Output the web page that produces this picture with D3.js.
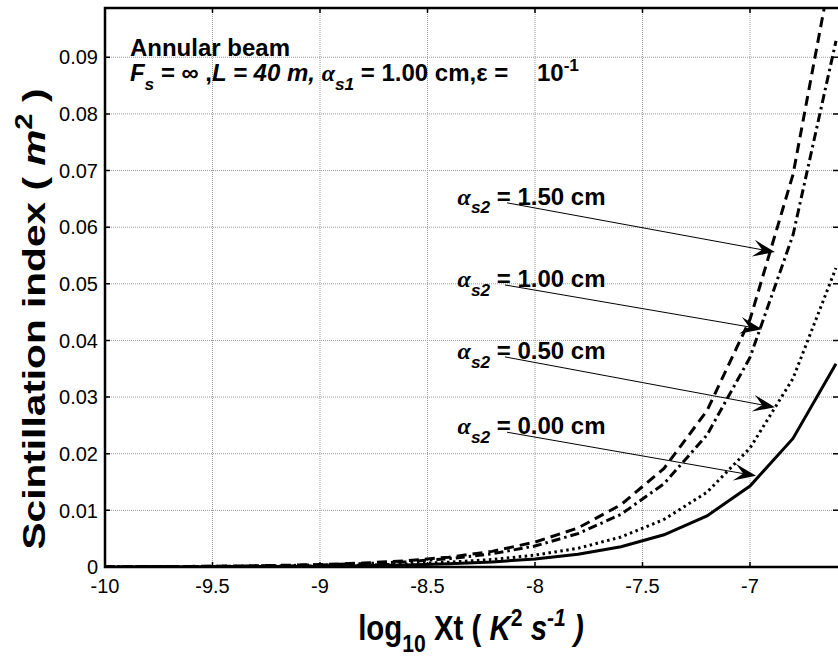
<!DOCTYPE html>
<html>
<head>
<meta charset="utf-8">
<script src="https://cdn.jsdelivr.net/npm/d3@7"></script>
<style>
  html, body { margin: 0; padding: 0; background: #fff; }
  svg { display: block; font-family: "Liberation Sans", Arial, sans-serif; }
</style>
</head>
<body>
<div id="chart"></div>
<script>
// log10 Xt sample points
const logXt = [-10, -9.8, -9.6, -9.4, -9.2, -9.0, -8.8, -8.6, -8.4, -8.2,
  -8.0, -7.8, -7.6, -7.4, -7.2, -7.0, -6.8, -6.6];

// scintillation index, one array per alpha_s2
const alpha150 = [0.000044, 0.000069, 0.00011, 0.000174, 0.000276, 0.00044, 0.00069, 0.0011, 0.00174, 0.00276,
  0.0044, 0.0069, 0.011, 0.0174, 0.0276, 0.0437, 0.0693, 0.1098];
const alpha100 = [0.000037, 0.000059, 0.000093, 0.000147, 0.000233, 0.00037, 0.00059, 0.00093, 0.00147, 0.00233,
  0.0037, 0.0059, 0.0093, 0.0147, 0.0233, 0.037, 0.0586, 0.0929];
const alpha050 = [0.000021, 0.000033, 0.000053, 0.000084, 0.000132, 0.00021, 0.00033, 0.00053, 0.00084, 0.00132,
  0.0021, 0.0033, 0.0053, 0.0084, 0.0132, 0.021, 0.0333, 0.0528];
const alpha000 = [0.0000143, 0.0000227, 0.0000359, 0.0000569, 0.0000902, 0.000143, 0.000227, 0.000359, 0.000569, 0.000902,
  0.00143, 0.00227, 0.00359, 0.00569, 0.00902, 0.0143, 0.0227, 0.0359];

const seriesNames = ["1.50", "1.00", "0.50", "0.00"];
const seriesValues = [alpha150, alpha100, alpha050, alpha000];
const seriesDash = ["10,6", "9,4,2.5,4", "2.5,3.5", null];

// arrow annotations: [label, tail x, tail y, tip x, tip y] in data units
const arrowNotes = [
  ["1.50", -8.13, 0.0643, -6.884, 0.0556],
  ["1.00", -8.14, 0.0498, -6.944, 0.0420],
  ["0.50", -8.14, 0.0371, -6.884, 0.0282],
  ["0.00", -8.13, 0.0238, -6.972, 0.0161]
];

const xTicks = [-10, -9.5, -9, -8.5, -8, -7.5, -7];
const xTickLabels = ["-10", "-9.5", "-9", "-8.5", "-8", "-7.5", "-7"];
const yTicks = [0, 0.01, 0.02, 0.03, 0.04, 0.05, 0.06, 0.07, 0.08, 0.09];
const yTickLabels = ["0", "0.01", "0.02", "0.03", "0.04", "0.05", "0.06", "0.07", "0.08", "0.09"];

const width = 838, height = 664;
const margin = { top: 8, right: 2, bottom: 97, left: 105 };
const serif = '"Liberation Serif", "DejaVu Serif", serif';

const svg = d3.select("#chart").append("svg")
  .attr("width", width)
  .attr("height", height);

svg.append("rect").attr("width", width).attr("height", height).attr("fill", "#fff");

const x = d3.scaleLinear().domain([-10, -6.6]).range([margin.left, width - margin.right]);
const y = d3.scaleLinear().domain([0, 0.0987]).range([height - margin.bottom, margin.top]);

// rich text helper: parts with sub / sup / italic
function rich(text, parts, size) {
  let off = 0;
  parts.forEach(p => {
    const target = p.sub ? size * 0.36 : p.sup ? -size * 0.42 : 0;
    const ts = text.append("tspan")
      .text(p.t)
      .attr("dy", target - off)
      .style("font-size", (p.sub || p.sup ? size * 0.72 : size) + "px")
      .style("font-style", p.it ? "italic" : "normal");
    if (p.serif) ts.style("font-family", serif);
    off = target;
  });
}

// grid
const grid = svg.append("g").attr("stroke", "#9a9a9a").attr("stroke-width", 1).attr("stroke-dasharray", "1,1");
grid.selectAll(".gx").data(xTicks.slice(1)).join("line")
  .attr("x1", d => x(d)).attr("x2", d => x(d))
  .attr("y1", y.range()[0]).attr("y2", y.range()[1]);
grid.selectAll(".gy").data(yTicks.slice(1)).join("line")
  .attr("x1", x.range()[0]).attr("x2", width)
  .attr("y1", d => y(d)).attr("y2", d => y(d));

// curves
svg.append("clipPath").attr("id", "plot-clip")
  .append("rect")
  .attr("x", x.range()[0]).attr("y", y.range()[1])
  .attr("width", width - x.range()[0])
  .attr("height", y.range()[0] - y.range()[1]);

const line = d3.line().x((d, i) => x(logXt[i])).y(d => y(d));

svg.append("g").attr("clip-path", "url(#plot-clip)")
  .selectAll("path").data(seriesValues).join("path")
  .attr("d", line)
  .attr("fill", "none")
  .attr("stroke", "#000")
  .attr("stroke-width", 3)
  .attr("stroke-dasharray", (d, i) => seriesDash[i]);

// axes: left, bottom, top (right edge falls just outside the picture)
const axes = svg.append("g");
const x0 = x.range()[0], yb = y.range()[0], yt = y.range()[1];
axes.append("path")
  .attr("d", `M${width},${yt}H${x0}V${yb}H${width}`)
  .attr("fill", "none").attr("stroke", "#000").attr("stroke-width", 2.5);

const tickLen = 5;
axes.selectAll(".tb").data(xTicks).join("path")
  .attr("d", d => `M${x(d)},${yb}v${-tickLen}M${x(d)},${yt}v${tickLen}`)
  .attr("stroke", "#000").attr("stroke-width", 1.5);
axes.selectAll(".tl").data(yTicks).join("path")
  .attr("d", d => `M${x0},${y(d)}h${tickLen}M${width},${y(d)}h${-tickLen}`)
  .attr("stroke", "#000").attr("stroke-width", 1.5);

axes.selectAll(".xl").data(xTicks).join("text")
  .attr("x", d => x(d)).attr("y", yb + 26)
  .attr("text-anchor", "middle")
  .style("font-size", "20px")
  .text((d, i) => xTickLabels[i]);
axes.selectAll(".yl").data(yTicks).join("text")
  .attr("x", x0 - 7).attr("y", d => y(d))
  .attr("dy", "0.36em")
  .attr("text-anchor", "end")
  .style("font-size", "20px")
  .text((d, i) => yTickLabels[i]);

// axis labels
const xLabel = svg.append("text")
  .attr("transform", "translate(471,640) scale(0.98,1.15)")
  .attr("text-anchor", "middle")
  .style("font-weight", "bold");
rich(xLabel, [
  { t: "log" }, { t: "10", sub: true }, { t: " Xt ( " },
  { t: "K", it: true }, { t: "2", sup: true }, { t: " " },
  { t: "s", it: true }, { t: "-1", sup: true, it: true }, { t: " )", it: true }
], 30);

const yLabel = svg.append("text")
  .attr("transform", "translate(45,319) rotate(-90) scale(1.27,1)")
  .attr("text-anchor", "middle")
  .style("font-weight", "bold");
rich(yLabel, [
  { t: "Scintillation index ( " }, { t: "m", it: true }, { t: "2", sup: true }, { t: " )" }
], 32);

// title annotations
svg.append("text")
  .attr("x", x(-9.884)).attr("y", y(0.0903))
  .style("font-size", "24px").style("font-weight", "bold")
  .text("Annular beam");

const info = svg.append("text")
  .attr("x", x(-9.884)).attr("y", y(0.0858))
  .style("font-weight", "bold");
rich(info, [
  { t: "F", it: true }, { t: "s", sub: true, it: true }, { t: " = \u221e ," },
  { t: "L = 40 m,", it: true }, { t: " " },
  { t: "\u03b1", it: true, serif: true }, { t: "s1", sub: true, it: true },
  { t: " = 1.00 cm,\u03b5 =" }
], 24);

const eps = svg.append("text")
  .attr("x", x(-7.991)).attr("y", y(0.0858))
  .style("font-weight", "bold");
rich(eps, [{ t: "10" }, { t: "-1", sup: true }], 24);

// arrows
const arrows = svg.append("g");
arrowNotes.forEach(([name, tx, ty, hx, hy]) => {
  const ax = x(tx), ay = y(ty), bx = x(hx), by = y(hy);
  const len = Math.hypot(bx - ax, by - ay);
  const ux = (bx - ax) / len, uy = (by - ay) / len;
  const nx = -uy, ny = ux;
  const L = 22, W = 8.5, N = 13;
  arrows.append("line")
    .attr("x1", ax).attr("y1", ay)
    .attr("x2", bx - ux * N).attr("y2", by - uy * N)
    .attr("stroke", "#000").attr("stroke-width", 1);
  arrows.append("path")
    .attr("d", `M${bx},${by}L${bx - ux * L + nx * W},${by - uy * L + ny * W}` +
      `L${bx - ux * N},${by - uy * N}L${bx - ux * L - nx * W},${by - uy * L - ny * W}Z`)
    .attr("fill", "#000");

  const label = svg.append("text")
    .attr("x", x(-8.36)).attr("y", ay + 2)
    .style("font-weight", "bold");
  rich(label, [
    { t: "\u03b1", it: true, serif: true }, { t: "s2", sub: true, it: true },
    { t: " = " + name + " cm" }
  ], 24);
});
</script>
</body>
</html>
